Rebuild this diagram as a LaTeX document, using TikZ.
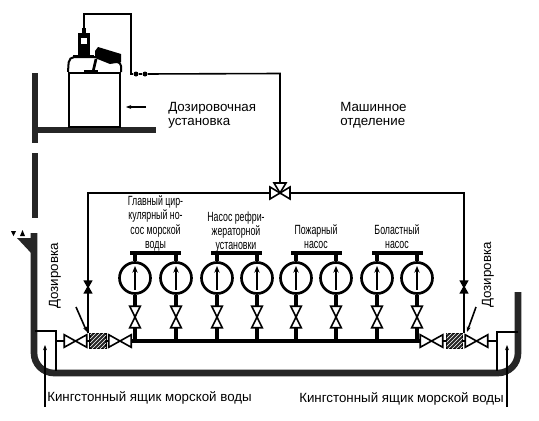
\documentclass[tikz,border=0pt]{standalone}
\usepackage{fontspec}
\setmainfont{Liberation Sans}
\newfontfamily\narrowfont[FakeStretch=0.66]{Liberation Sans}
\usetikzlibrary{arrows, arrows.meta, positioning, patterns}
\tikzstyle{hull} = [line width=5pt, black!85, line cap=butt]
\tikzstyle{pipe} = [line width=1.2pt]
\tikzstyle{mainpipe} = [line width=2.3pt]
\tikzstyle{pump} = [circle, draw=black, line width=2pt, minimum size=31*0.75pt, inner sep=0pt]
\tikzstyle{pumpbar} = [rectangle, fill=black, minimum width=51*0.75pt, minimum height=2.4pt, inner sep=0pt]
\tikzstyle{vvalve} = [rectangle, minimum width=10*0.75pt, minimum height=21*0.75pt, inner sep=0pt]
\tikzstyle{hvalve} = [rectangle, minimum width=22*0.75pt, minimum height=12*0.75pt, inner sep=0pt]
\tikzstyle{check} = [rectangle, minimum width=6*0.75pt, minimum height=11*0.75pt, inner sep=0pt]
\tikzstyle{valveline} = [line width=1.2pt, fill=white, line join=miter]
\tikzstyle{strainer} = [rectangle, draw=black, line width=1.2pt, fill=black!85, minimum width=16*0.75pt, minimum height=15*0.75pt, inner sep=0pt, postaction={pattern=north east lines, pattern color=white}]
\tikzstyle{label} = [inner sep=0pt, font=\fontsize{10}{10.6}\selectfont, align=left]
\tikzstyle{pumplabel} = [inner sep=0pt, font=\narrowfont\fontsize{10}{10.6}\selectfont, align=center]
\tikzstyle{arrow} = [line width=1.2pt,-{Stealth[length=4pt,width=3pt]}]
\begin{document}
\begin{tikzpicture}[x=0.75pt, y=0.75pt]
        \useasboundingbox (0,0) rectangle (539,-421);

        % --- Hull and walls ---
        \draw [hull, rounded corners=15pt] (34,-233) -- (34,-373) -- (518,-373) -- (518,-292);
        \draw [hull] (35,-73) -- (35,-143);
        \draw [hull] (35,-153) -- (35,-218);
        \draw [hull] (37,-130) -- (156,-130);

        % --- Water level ---
        \fill [black!85] (17,-238) -- (32,-238) -- (32,-254) -- cycle;
        \fill (11,-231) -- (16,-231) -- (13.5,-236) -- cycle;
        \fill (20,-236) -- (25,-236) -- (22.5,-230) -- cycle;

        % --- Dosing unit ---
        \node (tank) [rectangle, draw=black, line width=1.5pt, minimum width=51*0.75pt, minimum height=54*0.75pt, inner sep=0pt] at (94.5,-100) {};
        \draw [line width=1.5pt, rounded corners=4pt] (tank.north west) -- (69,-57) -- (95,-57);
        \draw [line width=1.5pt, rounded corners=3pt] (tank.north east) -- (121,-62) -- (112,-62);
        \node (dosepump) [rectangle, fill=black, minimum width=12*0.75pt, minimum height=22*0.75pt, inner sep=0pt] at (84,-44) {};
        \fill [white] (81,-38) rectangle (87,-44);
        \draw [line width=2pt] (73,-56) -- (94,-56);
        \fill (95,-51) -- (98,-47) -- (121,-54) -- (121,-62) -- (110,-64) -- (95,-58) -- cycle;
        \draw [line width=2pt] (96,-59) -- (93,-72);
        \draw [line width=2pt] (84,-71) -- (98,-71);
        \draw [line width=2.4pt] (84,-33) -- (84,-28);

        % --- Nodes of dosing line ---
        \coordinate (topright) at (131,-14);
        \node (ballA) [circle, fill=black, minimum size=5*0.75pt, inner sep=0pt] at (136,-74) {};
        \node (ballB) [circle, fill=black, minimum size=5*0.75pt, inner sep=0pt] at (145,-74) {};
        \node (threeway) [rectangle, minimum size=20*0.75pt, inner sep=0pt] at (280,-193) {};
        \coordinate (corner) at (280,-73.5);
        \node (strainerL) [strainer] at (98,-341) {};
        \node (strainerR) [strainer] at (454.5,-341) {};
        \node (checkL) [check] at (88,-287) {};
        \node (checkR) [check] at (464,-287) {};
        \draw [valveline, fill=black] (checkL.north west) -- (checkL.north east) -- (checkL.south west) -- (checkL.south east) -- cycle;
        \draw [valveline, fill=black] (checkR.north west) -- (checkR.north east) -- (checkR.south west) -- (checkR.south east) -- cycle;

        % --- Three way valve ---
        \draw [valveline] (threeway.center) -- ++(-6,10) -- ++(12,0) -- cycle;
        \draw [valveline] (threeway.center) -- ++(-10,6) -- ++(0,-12) -- cycle;
        \draw [valveline] (threeway.center) -- ++(10,6) -- ++(0,-12) -- cycle;

        % --- Dosing line ---
        \draw [pipe] (dosepump.north) |- (topright) |- (ballA.west);
        \draw [pipe] (ballA) -- (ballB);
        \draw [pipe] (ballB) -- (corner) -- (threeway.north);
        \draw [pipe] (threeway.west) -- (88,-193) -- (checkL.north);
        \draw [pipe] (checkL.south) -- (checkL |- strainerL.north);
        \draw [pipe] (threeway.east) -- (464,-193) -- (checkR.north);
        \draw [pipe] (checkR.south) -- (checkR |- strainerR.north);

        % --- Pumps ---
        \foreach \name/\x in {A/135, B/176, C/217, D/257, E/296, F/336, G/377, H/417} {
            \node (pump\name) [pump] at (\x,-278) {};
            \node (valve\name) [vvalve] at (\x,-317) {};
            \coordinate (join\name) at (\x,-341);
            \draw [valveline] (valve\name.north west) -- (valve\name.north east) -- (valve\name.south west) -- (valve\name.south east) -- cycle;
            \draw [mainpipe] (pump\name.south) -- (valve\name.north);
            \draw [mainpipe] (valve\name.south) -- (join\name);
            \draw [line width=1.6pt,-{Stealth[length=5pt,width=4pt]}] (\x,-290) -- (\x,-266);
        }
        \foreach \name/\first/\second/\x in {A/A/B/155.5, C/C/D/236, E/E/F/316, G/G/H/397} {
            \node (bar\name) [pumpbar] at (\x,-253) {};
            \draw [mainpipe] (pump\first.north) -- (pump\first |- bar\name.south);
            \draw [mainpipe] (pump\second.north) -- (pump\second |- bar\name.south);
        }

        % --- Pump labels ---
        \node (labelA) [pumplabel, above=0pt of barA] {Главный цир-\\кулярный но-\\сос морской\\воды};
        \node (labelC) [pumplabel, above=-1pt of barC] {Насос рефри-\\жераторной\\установки};
        \node (labelE) [pumplabel, above=1.5pt of barE] {Пожарный\\насос};
        \node (labelG) [pumplabel, above=1.5pt of barG] {Боластный\\насос};

        % --- Sea chests ---
        \coordinate (chestL) at (56,-341);
        \coordinate (chestR) at (497,-341);
        \draw [pipe] (35,-331) -- (56,-331) -- (56,-371);
        \draw [pipe] (518,-332) -- (497,-332) -- (497,-371);

        % --- Main line ---
        \node (valveLa) [hvalve] at (75.5,-341) {};
        \node (valveLb) [hvalve] at (120,-341) {};
        \node (valveRa) [hvalve] at (431.5,-341) {};
        \node (valveRb) [hvalve] at (476.5,-341) {};
        \foreach \name in {La, Lb, Ra, Rb} {
            \draw [valveline] (valve\name.north west) -- (valve\name.south west) -- (valve\name.north east) -- (valve\name.south east) -- cycle;
        }
        \draw [mainpipe] (valveLb.east) -- (valveRa.west);
        \draw [pipe] (chestL) -- (valveLa.west);
        \draw [pipe] (valveLa.east) -- (strainerL.west);
        \draw [pipe] (strainerL.east) -- (valveLb.west);
        \draw [pipe] (valveRa.east) -- (strainerR.west);
        \draw [pipe] (strainerR.east) -- (valveRb.west);
        \draw [pipe] (valveRb.east) -- (chestR);

        % --- Pointers ---
        \coordinate (tipL) at (87,-332);
        \coordinate (tipR) at (467,-332);
        \draw [arrow] (76,-307) -- (tipL);
        \draw [arrow] (476,-307) -- (tipR);
        \draw [arrow] (146,-107) -- (126,-107);
        \draw [arrow] (45,-407) -- (45,-345);
        \draw [arrow] (507,-407) -- (507,-345);

        % --- Labels ---
        \node (dosing) [label, anchor=west] at (168,-115) {Дозировочная\\установка};
        \node (engine) [label, anchor=west] at (340,-115) {Машинное\\отделение};
        \node (dozeL) [label, rotate=90] at (55,-276) {Дозировка};
        \node (dozeR) [label, rotate=90] at (488,-275) {Дозировка};
        \node (seaL) [label, anchor=west] at (47,-398) {Кингстонный ящик морской воды};
        \node (seaR) [label, anchor=west] at (299,-399) {Кингстонный ящик морской воды};

\end{tikzpicture}
\end{document}
